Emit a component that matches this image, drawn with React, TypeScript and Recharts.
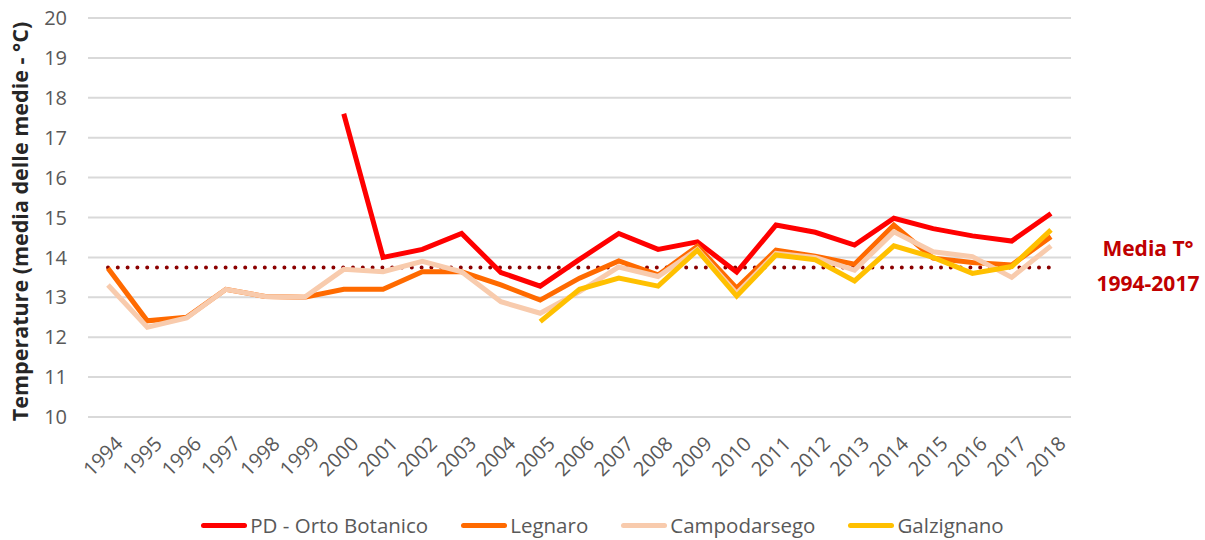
import React from "react";
import {
  LineChart,
  Line,
  XAxis,
  YAxis,
  CartesianGrid,
  Legend,
  ReferenceLine,
} from "recharts";

const years = [
  "1994", "1995", "1996", "1997", "1998", "1999", "2000", "2001", "2002",
  "2003", "2004", "2005", "2006", "2007", "2008", "2009", "2010", "2011",
  "2012", "2013", "2014", "2015", "2016", "2017", "2018",
];

const ortoBotanico = [
  null, null, null, null, null, null, 17.6, 14.0, 14.2, 14.6, 13.62, 13.28,
  13.95, 14.6, 14.2, 14.39, 13.63, 14.81, 14.63, 14.31, 14.98, 14.72, 14.54,
  14.41, 15.1,
];
const legnaro = [
  13.73, 12.41, 12.5, 13.2, 13.02, 13.0, 13.2, 13.2, 13.64, 13.64, 13.31,
  12.93, 13.48, 13.91, 13.56, 14.28, 13.23, 14.18, 14.03, 13.83, 14.81, 13.98,
  13.87, 13.81, 14.52,
];
const campodarsego = [
  13.31, 12.25, 12.48, 13.2, 13.02, 13.0, 13.7, 13.64, 13.9, 13.64, 12.89,
  12.6, 13.14, 13.76, 13.52, 14.2, 13.1, 14.1, 14.0, 13.68, 14.64, 14.14,
  14.02, 13.5, 14.29,
];
const galzignano = [
  null, null, null, null, null, null, null, null, null, null, null, 12.39,
  13.2, 13.48, 13.28, 14.18, 13.03, 14.06, 13.94, 13.41, 14.29, 14.0, 13.6,
  13.77, 14.69,
];

const yTicks = [10, 11, 12, 13, 14, 15, 16, 17, 18, 19, 20];
const mediaValue = 13.75;

const series = [
  { key: "orto", name: "PD - Orto Botanico", color: "#ff0000" },
  { key: "legnaro", name: "Legnaro", color: "#ff6a00" },
  { key: "campo", name: "Campodarsego", color: "#f8cbad" },
  { key: "galz", name: "Galzignano", color: "#ffc000" },
];

const data = years.map((year, i) => ({
  year,
  orto: ortoBotanico[i],
  legnaro: legnaro[i],
  campo: campodarsego[i],
  galz: galzignano[i],
}));

const font = "'Open Sans', sans-serif";

function LegendContent() {
  return (
    <div
      style={{
        display: "flex",
        justifyContent: "center",
        alignItems: "center",
        height: 30,
        fontFamily: font,
        fontSize: 20.5,
        color: "#595959",
      }}
    >
      {series.map((s, i) => (
        <div
          key={s.key}
          style={{
            display: "flex",
            alignItems: "center",
            marginRight: i < series.length - 1 ? 33 : 0,
          }}
        >
          <span
            style={{
              display: "inline-block",
              width: 46,
              height: 5,
              borderRadius: 3,
              background: s.color,
              marginRight: 3,
            }}
          />
          <span>{s.name}</span>
        </div>
      ))}
    </div>
  );
}

export default function App() {
  return (
    <div
      style={{
        position: "absolute",
        left: 0,
        top: 0,
        width: 1205,
        height: 540,
        background: "#fff",
      }}
    >
      <LineChart
        width={1205}
        height={540}
        data={data}
        margin={{ top: 18, right: 134, left: 0, bottom: 0 }}
      >
        <CartesianGrid vertical={false} stroke="#d9d9d9" strokeWidth={2} />
        <XAxis
          dataKey="year"
          interval={0}
          padding={{ left: 20, right: 20 }}
          axisLine={false}
          tickLine={false}
          tickSize={0}
          tickMargin={18}
          height={93}
          angle={-45}
          textAnchor="end"
          tick={{ fill: "#595959", fontSize: 20, fontFamily: font, dx: 6 }}
        />
        <YAxis
          domain={[10, 20]}
          ticks={yTicks}
          interval={0}
          width={88}
          axisLine={false}
          tickLine={false}
          tickSize={0}
          tickMargin={21}
          tick={{ fill: "#595959", fontSize: 20, fontFamily: font }}
          label={{
            value: "Temperature (media delle medie - °C)",
            angle: -90,
            position: "insideLeft",
            offset: 20,
            dy: 4,
            style: {
              textAnchor: "middle",
              fill: "#262626",
              fontSize: 21.5,
              fontWeight: 700,
              fontFamily: font,
            },
          }}
        />
        <ReferenceLine
          segment={[
            { x: "1994", y: mediaValue },
            { x: "2018", y: mediaValue },
          ]}
          stroke="#8b0000"
          strokeWidth={4}
          strokeDasharray="0 9.8"
          strokeLinecap="round"
        />
        {series.map((s) => (
          <Line
            key={s.key}
            type="linear"
            dataKey={s.key}
            name={s.name}
            stroke={s.color}
            strokeWidth={5}
            dot={false}
            activeDot={false}
            isAnimationActive={false}
          />
        ))}
        <Legend
          verticalAlign="bottom"
          height={30}
          wrapperStyle={{ width: 1205, left: 0 }}
          content={<LegendContent />}
        />
      </LineChart>
      <div
        style={{
          position: "absolute",
          left: 1088,
          top: 231,
          width: 120,
          textAlign: "center",
          fontFamily: font,
          fontWeight: 700,
          fontSize: 21,
          lineHeight: "35px",
          color: "#c00000",
        }}
      >
        <div>Media T°</div>
        <div>1994-2017</div>
      </div>
    </div>
  );
}
